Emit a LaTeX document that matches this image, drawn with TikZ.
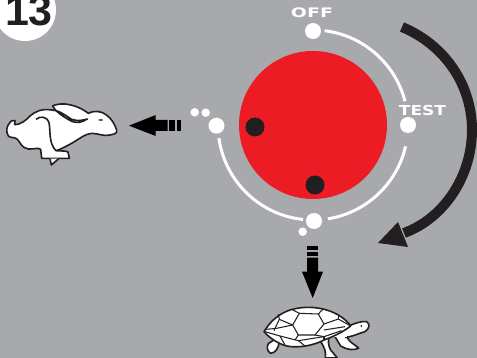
\documentclass[tikz,border=0pt]{standalone}
\usepackage{fontspec}
\setmainfont{Liberation Sans}
\newfontfamily\labelfont{DejaVu Sans}
\definecolor{bg}{HTML}{A7A9AC}
\definecolor{dialred}{HTML}{ED1C24}
\definecolor{ink}{HTML}{231F20}
\tikzset{
  whitedot/.style={circle,fill=white,draw=none,inner sep=0pt,minimum size=#1},
  blackdot/.style={circle,fill=ink,draw=none,inner sep=0pt,minimum size=19pt},
  dialarc/.style={draw=white,line width=3pt},
  animal/.style={fill=white,draw=ink,line width=1.6pt,line join=round},
  detail/.style={draw=ink,line width=1.05pt,line join=round},
  label/.style={text=white,inner sep=0pt,font=\labelfont\bfseries\fontsize{12.5}{12.5}\selectfont}
}
\begin{document}
\begin{tikzpicture}[x=1pt,y=-1pt]
\useasboundingbox (0,0) rectangle (477,358);
\clip (0,0) rectangle (477,358);
\fill[bg] (0,0) rectangle (477,358);
% badge
\node[circle,fill=white,inner sep=0pt,minimum size=62pt] (badge) at (25,10) {};
\node[inner sep=0pt,anchor=base,text=ink,font=\bfseries\fontsize{43}{43}\selectfont] (num) at (29,26) {13};
% dial
\node[circle,fill=dialred,inner sep=0pt,minimum size=148pt] (dial) at (313,125) {};
\node[blackdot] (b1) at (255,127) {};
\node[blackdot] (b2) at (315,185) {};
\node[whitedot=16pt] (off) at (313,31) {};
\node[whitedot=16pt] (test) at (408,125) {};
\node[whitedot=16pt] (fast) at (216.5,125.7) {};
\node[whitedot=16pt] (slow) at (314,221) {};
\node[whitedot=8.5pt] (s1) at (194.7,112.3) {};
\node[whitedot=8.5pt] (s2) at (205.7,112.7) {};
\node[whitedot=8.5pt] (s3) at (302.7,231.7) {};
\node[label] (offt) at (312,12.7) {\scalebox{1.52}[1.05]{OFF}};
\node[label] (testt) at (422.5,110) {\scalebox{1.36}[1.1]{TEST}};
% dial arcs (angles are measured with y pointing down)
\draw[dialarc] (dial.center) ++(-83:95) arc[start angle=-83,end angle=-14.5,radius=95];
\draw[dialarc] (dial.center) ++(13:95) arc[start angle=13,end angle=81,radius=95];
\draw[dialarc] (dial.center) ++(96:95) arc[start angle=96,end angle=172,radius=95];
% big arrow
\coordinate (bigA) at (402,27);
\coordinate (bigB) at (472,130);
\coordinate (bigC) at (404,233);
\draw[ink,line width=10pt] (bigA) .. controls (445,45) and (472,85) .. (bigB) .. controls (472,175) and (445,218) .. (bigC);
\fill[ink] (378,243) -- (398,222) -- (408,247) -- cycle;
% small arrows
\fill[black] (129,125.7) -- (155.7,115) -- (155.7,120) -- (167.7,120) -- (167.7,131) -- (155.7,131) -- (155.7,136) -- cycle;
\fill[black] (169.3,120) rectangle (175.3,131);
\fill[black] (176.7,120) rectangle (181,131);
\fill[black] (312.7,298) -- (302,271.7) -- (307,271.7) -- (307,257.7) -- (318,257.7) -- (318,271.7) -- (323,271.7) -- cycle;
\fill[black] (307,246) rectangle (318,250);
\fill[black] (307,251.7) rectangle (318,256);
% rabbit
\begin{scope}[shift={(0,80)},scale=1/3]
\draw[animal] (45,122) .. controls (38,120) and (30,122) .. (28,130) .. controls (20,138) and (17,155) .. (25,168)
 .. controls (32,175) and (45,170) .. (52,178) .. controls (60,185) and (65,205) .. (85,207)
 .. controls (100,208) and (115,202) .. (122,208) -- (125,235) -- (208,235) -- (204,216)
 .. controls (195,211) and (180,214) .. (168,212) .. controls (190,205) and (205,195) .. (220,187)
 .. controls (240,175) and (255,162) .. (275,160) .. controls (295,160) and (310,170) .. (330,165)
 .. controls (345,162) and (352,160) .. (350,150) .. controls (345,135) and (335,115) .. (318,104)
 .. controls (305,94) and (285,90) .. (265,100)
 .. controls (250,88) and (225,75) .. (195,72) .. controls (180,71) and (165,74) .. (158,78)
 .. controls (165,92) and (185,108) .. (215,124) .. controls (230,130) and (245,128) .. (262,117)
 .. controls (250,120) and (235,125) .. (215,118) .. controls (195,105) and (175,90) .. (155,90)
 .. controls (125,85) and (105,95) .. (90,108) .. controls (80,120) and (60,135) .. (44,134) -- cycle;
\draw[ink,line width=1.6pt] (108,118) .. controls (120,108) and (140,108) .. (147,128)
 .. controls (152,150) and (145,190) .. (168,212);
\draw[animal] (150,236) -- (154,255) -- (176,236);
\fill[gray!70!black] (302,120) ellipse (7 and 3);
\end{scope}
% turtle
\begin{scope}[shift={(250,220)},scale=1/3]
\draw[animal] (285,345) -- (302,366) -- (326,384) .. controls (315,392) and (290,390) .. (272,378) -- (255,350);
\draw[animal] (240,345) .. controls (232,360) and (235,378) .. (242,390) -- (262,414) -- (226,414) .. controls (228,395) and (225,385) .. (212,365);
\draw[animal] (88,365) .. controls (85,385) and (78,398) .. (62,400) .. controls (52,395) and (48,380) .. (56,370) -- (72,360);
\draw[animal] (290,320) .. controls (310,312) and (335,302) .. (350,305) .. controls (360,312) and (360,325) .. (345,335)
 .. controls (325,340) and (310,350) .. (285,352);
\fill[white] (250,325) rectangle (290,350);
\fill[ink] (334,318) circle (3);
\draw[animal] (42,335) .. controls (60,305) and (85,282) .. (120,270) .. controls (170,255) and (225,262) .. (265,285)
 .. controls (285,297) and (295,308) .. (302,318) .. controls (280,335) and (255,348) .. (222,360)
 .. controls (180,382) and (125,385) .. (100,375) .. controls (75,365) and (55,350) .. (42,335) -- cycle;
\draw[detail] (148,280) -- (205,282) -- (222,312) -- (195,345) -- (145,345) -- (128,315) -- cycle;
\draw[detail] (148,280) -- (125,268);
\draw[detail] (205,282) -- (220,266);
\draw[detail] (222,312) -- (265,297) -- (302,318);
\draw[detail] (265,297) -- (265,285);
\draw[detail] (128,315) -- (88,298) -- (85,283);
\draw[detail] (88,298) -- (72,332);
\draw[detail] (128,315) -- (80,325) -- (48,328);
\draw[detail] (45,335) -- (90,348) -- (145,362) -- (222,350) -- (275,332);
\draw[detail] (145,345) -- (135,360);
\draw[detail] (195,345) -- (222,350);
\draw[detail] (222,330) -- (285,320);
\draw[detail] (90,348) -- (105,375);
\draw[detail] (145,362) -- (165,378);
\draw[detail] (222,350) -- (222,360);
\end{scope}
\end{tikzpicture}
\end{document}
